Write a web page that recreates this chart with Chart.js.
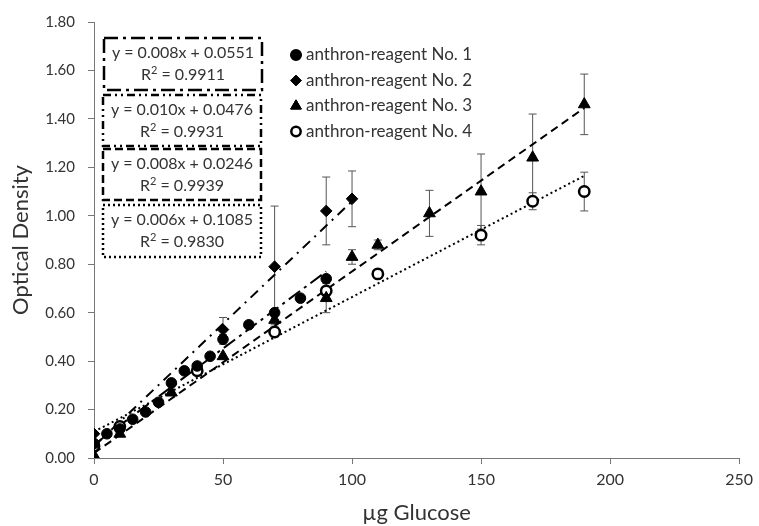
<!DOCTYPE html>
<html>
<head>
<meta charset="utf-8">
<script src="https://cdn.jsdelivr.net/npm/chart.js@4/dist/chart.umd.min.js"></script>
<style>
  body { margin: 0; background: #fff; }
  #wrap { width: 759px; height: 526px; }
</style>
</head>
<body>
<div id="wrap"><canvas id="chart" width="759" height="526"></canvas></div>
<script>
// values
const xTicks = [0, 50, 100, 150, 200, 250];
const yTicks = [0, 0.2, 0.4, 0.6, 0.8, 1.0, 1.2, 1.4, 1.6, 1.8];

const seriesNames = [
  "anthron-reagent No. 1",
  "anthron-reagent No. 2",
  "anthron-reagent No. 3",
  "anthron-reagent No. 4",
];

const x1 = [0, 5, 10, 15, 20, 25, 30, 35, 40, 45, 50, 60, 70, 80, 90];
const y1 = [0.06, 0.10, 0.12, 0.16, 0.19, 0.23, 0.31, 0.36, 0.38, 0.42, 0.49, 0.55, 0.60, 0.66, 0.74];
const e1 = [0, 0, 0, 0, 0, 0, 0, 0, 0, 0, 0.02, 0, 0, 0, 0];

const x2 = [0, 50, 70, 90, 100];
const y2 = [0.10, 0.53, 0.79, 1.02, 1.07];
const e2 = [0, 0.05, 0.25, 0.14, 0.115];

const x3 = [0, 10, 30, 50, 70, 90, 100, 110, 130, 150, 170, 190];
const y3 = [0.01, 0.10, 0.27, 0.42, 0.57, 0.66, 0.83, 0.88, 1.01, 1.10, 1.24, 1.46];
const e3 = [0, 0, 0, 0, 0.02, 0.06, 0.03, 0.02, 0.095, 0.155, 0.18, 0.125];

const x4 = [0, 10, 40, 70, 90, 110, 150, 170, 190];
const y4 = [0.05, 0.13, 0.36, 0.52, 0.69, 0.76, 0.92, 1.06, 1.10];
const e4 = [0, 0, 0, 0.02, 0.04, 0, 0.04, 0.035, 0.08];

// trend line end points
const trendX1 = [0, 90];
const trendY1 = [0.055, 0.77];
const trendX2 = [0, 100];
const trendY2 = [0.048, 1.06];
const trendX3 = [0, 190];
const trendY3 = [0.02, 1.445];
const trendX4 = [0, 190];
const trendY4 = [0.1085, 1.165];

const equations = [
  ["y = 0.008x + 0.0551", "0.9911"],
  ["y = 0.010x + 0.0476", "0.9931"],
  ["y = 0.008x + 0.0246", "0.9939"],
  ["y = 0.006x + 0.1085", "0.9830"],
];

const FONT = "Lato, 'Open Sans', sans-serif";
const TEXT = "#333";

function pts(xs, ys) {
  return xs.map((x, i) => ({ x: x, y: ys[i] }));
}

function trend(xs, ys, dash) {
  return {
    data: pts(xs, ys),
    showLine: true,
    borderColor: "#000",
    borderWidth: 2,
    borderDash: dash,
    pointRadius: 0,
    fill: false,
    order: 5,
  };
}

function marks(xs, ys, errs, style, radius, filled) {
  return {
    data: pts(xs, ys),
    errs: errs,
    showLine: false,
    pointStyle: style,
    pointRadius: radius,
    pointBackgroundColor: filled ? "#000" : "#fff",
    pointBorderColor: "#000",
    pointBorderWidth: filled ? 1 : 2.5,
    order: 1,
  };
}

const datasets = [
  marks(x1, y1, e1, "circle", 5.3, true),
  marks(x2, y2, e2, "rectRot", 5.8, true),
  marks(x3, y3, e3, "triangle", 6.8, true),
  marks(x4, y4, e4, "circle", 5.2, false),
  trend(trendX1, trendY1, [14, 5, 3, 5]),
  trend(trendX2, trendY2, [10, 6, 2, 6]),
  trend(trendX3, trendY3, [8, 5]),
  trend(trendX4, trendY4, [2, 3]),
];

// error bars under the markers
const errorBars = {
  id: "errorBars",
  beforeDatasetsDraw(chart) {
    const ctx = chart.ctx;
    const xs = chart.scales.x;
    const ys = chart.scales.y;
    ctx.save();
    ctx.strokeStyle = "#555";
    ctx.lineWidth = 1;
    chart.data.datasets.forEach((ds) => {
      if (!ds.errs) return;
      ds.data.forEach((p, i) => {
        const e = ds.errs[i];
        if (!e) return;
        const px = xs.getPixelForValue(p.x);
        const top = ys.getPixelForValue(p.y + e);
        const bot = ys.getPixelForValue(p.y - e);
        ctx.beginPath();
        ctx.moveTo(px, top);
        ctx.lineTo(px, bot);
        ctx.moveTo(px - 4, top);
        ctx.lineTo(px + 4, top);
        ctx.moveTo(px - 4, bot);
        ctx.lineTo(px + 4, bot);
        ctx.stroke();
      });
    });
    ctx.restore();
  },
};

// equation boxes and the legend
const boxDash = [[14, 5, 3, 5], [8, 4, 2, 4, 2, 4], [8, 4], [2, 3]];
const boxes = [
  [104, 38, 158, 52],
  [103, 95, 158, 51],
  [103, 149, 158, 51],
  [103, 205, 158, 52],
];

const annotations = {
  id: "annotations",
  afterDraw(chart) {
    const ctx = chart.ctx;
    ctx.save();
    boxes.forEach((b, i) => {
      ctx.setLineDash(boxDash[i]);
      ctx.lineWidth = 2.5;
      ctx.strokeStyle = "#000";
      ctx.fillStyle = "#fff";
      ctx.fillRect(b[0], b[1], b[2], b[3]);
      ctx.strokeRect(b[0], b[1], b[2], b[3]);
      ctx.setLineDash([]);
      const cx = b[0] + b[2] / 2;
      ctx.fillStyle = TEXT;
      ctx.textBaseline = "middle";
      ctx.textAlign = "center";
      ctx.font = "16px " + FONT;
      ctx.fillText(equations[i][0], cx, b[1] + 15);
      // R² line
      const rest = " = " + equations[i][1];
      const wR = ctx.measureText("R").width;
      const wRest = ctx.measureText(rest).width;
      ctx.font = "11px " + FONT;
      const w2 = ctx.measureText("2").width;
      const start = cx - (wR + w2 + wRest) / 2;
      const ly = b[1] + 37;
      ctx.textAlign = "left";
      ctx.font = "16px " + FONT;
      ctx.fillText("R", start, ly);
      ctx.font = "11px " + FONT;
      ctx.fillText("2", start + wR, ly - 5);
      ctx.font = "16px " + FONT;
      ctx.fillText(rest, start + wR + w2, ly);
    });

    // legend
    const lx = 296;
    const rows = [55, 80.5, 106, 131.5];
    ctx.font = "17px " + FONT;
    ctx.textAlign = "left";
    ctx.textBaseline = "middle";
    for (let i = 0; i < 4; i++) {
      const ds = chart.data.datasets[i];
      Chart.helpers.drawPoint(
        ctx,
        {
          pointStyle: ds.pointStyle,
          radius: ds.pointRadius * 0.9,
          borderWidth: ds.pointBorderWidth,
        },
        lx,
        rows[i]
      );
      ctx.fillStyle = ds.pointBackgroundColor;
      ctx.strokeStyle = "#000";
      ctx.lineWidth = ds.pointBorderWidth;
      ctx.fill();
      ctx.stroke();
      ctx.fillStyle = TEXT;
      ctx.fillText(seriesNames[i], 306, rows[i]);
    }
    ctx.restore();
  },
};

new Chart(document.getElementById("chart"), {
  type: "scatter",
  data: { datasets: datasets },
  plugins: [errorBars, annotations],
  options: {
    responsive: false,
    animation: false,
    layout: { padding: { top: 20, right: 15, left: 0, bottom: 0 } },
    plugins: {
      legend: { display: false },
      tooltip: { enabled: false },
    },
    scales: {
      x: {
        type: "linear",
        min: 0,
        max: 250,
        afterBuildTicks: (s) => {
          s.ticks = xTicks.map((v) => ({ value: v }));
        },
        afterFit: (s) => {
          s.height = 68;
        },
        grid: { drawOnChartArea: false, tickLength: 6, color: "#777" },
        border: { color: "#777", width: 1 },
        ticks: { color: TEXT, font: { family: FONT, size: 16 }, padding: 6 },
        title: {
          display: true,
          text: "µg Glucose",
          color: TEXT,
          font: { family: FONT, size: 22 },
          padding: { top: 0, bottom: 0 },
        },
      },
      y: {
        type: "linear",
        min: 0,
        max: 1.8,
        afterBuildTicks: (s) => {
          s.ticks = yTicks.map((v) => ({ value: v }));
        },
        afterFit: (s) => {
          s.width = 94;
        },
        grid: { drawOnChartArea: false, tickLength: 6, color: "#777" },
        border: { color: "#777", width: 1 },
        ticks: {
          color: TEXT,
          font: { family: FONT, size: 15 },
          padding: 13,
          callback: (v) => Number(v).toFixed(2),
        },
        title: {
          display: true,
          text: "Optical Density",
          color: TEXT,
          font: { family: FONT, size: 22 },
          padding: { top: 8, bottom: 0 },
        },
      },
    },
  },
});
</script>
</body>
</html>
